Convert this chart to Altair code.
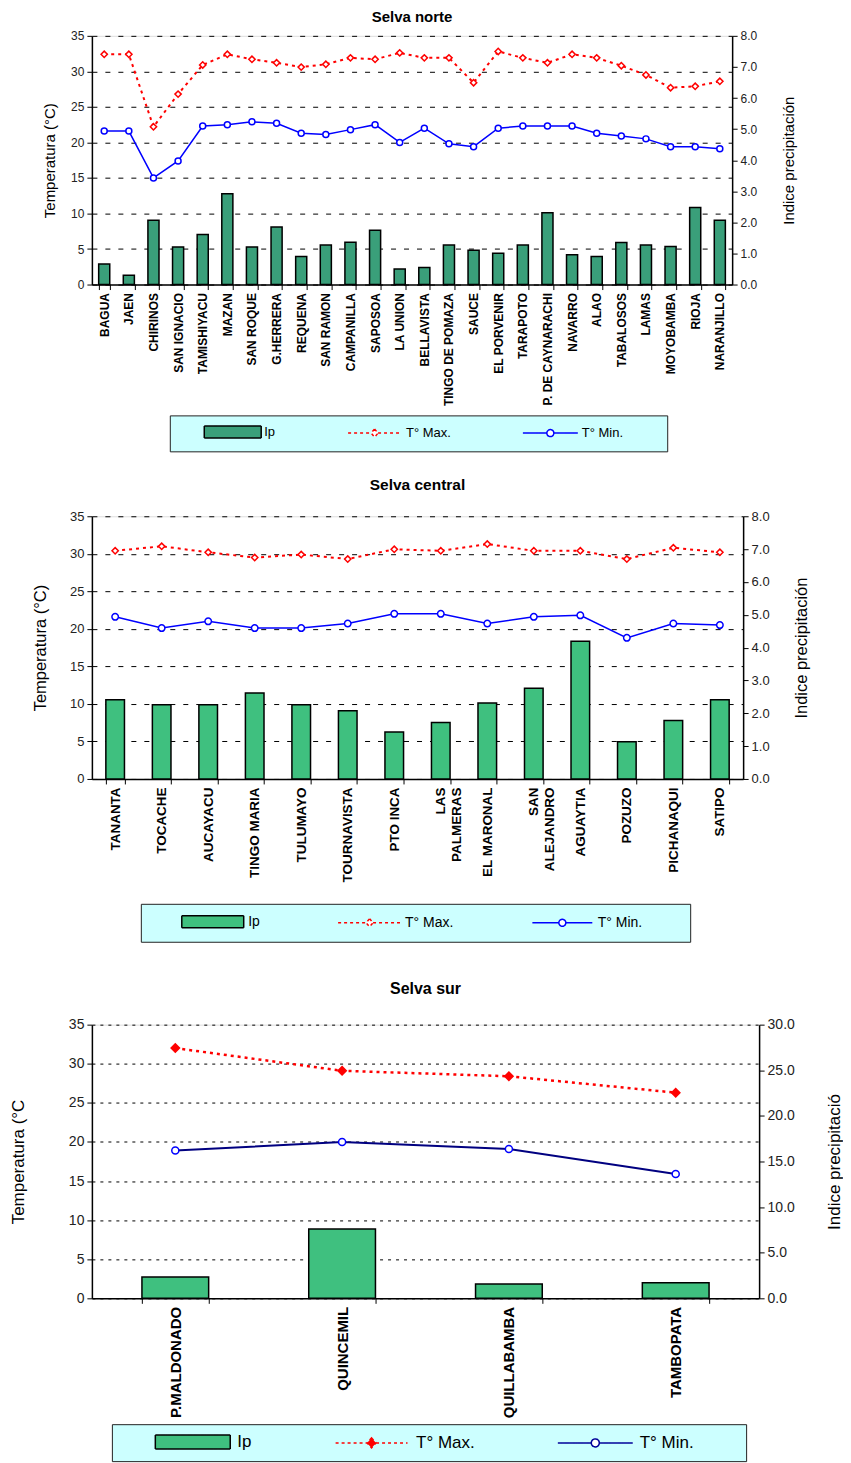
import altair as alt
import pandas as pd

FONT = "Liberation Sans, Arial, sans-serif"
SER = ["Ip", "T° Max.", "T° Min."]

# ---------------- Selva norte ----------------
norte_est = ["BAGUA", "JAEN", "CHIRINOS", "SAN IGNACIO", "TAMISHIYACU", "MAZAN",
             "SAN ROQUE", "G.HERRERA", "REQUENA", "SAN RAMON", "CAMPANILLA", "SAPOSOA",
             "LA UNION", "BELLAVISTA", "TINGO DE POMAZA", "SAUCE", "EL PORVENIR",
             "TARAPOTO", "P. DE CAYNARACHI", "NAVARRO", "ALAO", "TABALOSOS", "LAMAS",
             "MOYOBAMBA", "RIOJA", "NARANJILLO"]
norte_tmax = [32.4, 32.4, 22.2, 26.8, 30.9, 32.4, 31.7, 31.2, 30.6, 31.0, 31.9, 31.7, 32.6,
              31.9, 31.9, 28.4, 32.8, 31.9, 31.2, 32.4, 31.9, 30.8, 29.5, 27.7, 27.9, 28.6]
norte_tmin = [21.6, 21.6, 15.0, 17.4, 22.3, 22.5, 22.9, 22.7, 21.3, 21.1, 21.8, 22.5, 20.0,
              22.0, 19.8, 19.4, 22.0, 22.3, 22.3, 22.3, 21.3, 20.9, 20.5, 19.4, 19.4, 19.1]
norte_ip = [0.66, 0.30, 2.07, 1.21, 1.61, 2.92, 1.21, 1.85, 0.90, 1.27, 1.36, 1.75, 0.50,
            0.55, 1.27, 1.10, 1.01, 1.27, 2.31, 0.96, 0.90, 1.35, 1.27, 1.22, 2.48, 2.07]

# ---------------- Selva central ----------------
central_est = ["TANANTA", "TOCACHE", "AUCAYACU", "TINGO MARIA", "TULUMAYO", "TOURNAVISTA",
               "PTO INCA", "LAS PALMERAS", "EL MARONAL", "SAN ALEJANDRO", "AGUAYTIA",
               "POZUZO", "PICHANAQUI", "SATIPO"]
central_tmax = [30.4, 31.0, 30.2, 29.5, 29.9, 29.3, 30.6, 30.4, 31.3, 30.4, 30.4, 29.3, 30.8, 30.2]
central_tmin = [21.6, 20.1, 21.0, 20.1, 20.1, 20.7, 22.0, 22.0, 20.7, 21.6, 21.8, 18.8, 20.7, 20.5]
central_ip = [2.41, 2.26, 2.26, 2.62, 2.26, 2.08, 1.43, 1.72, 2.31, 2.76, 4.19, 1.13, 1.78, 2.41]

# ---------------- Selva sur ----------------
sur_est = ["P.MALDONADO", "QUINCEMIL", "QUILLABAMBA", "TAMBOPATA"]
sur_tmax = [32.0, 29.1, 28.4, 26.3]
sur_tmin = [18.9, 20.0, 19.1, 15.9]
sur_ip = [2.34, 7.6, 1.57, 1.72]


def panel(est, tmax, tmin, ip, o):
    df = pd.DataFrame({"est": est, "tmax": tmax, "tmin": tmin, "ip": ip})
    n = len(est)
    legdf = pd.DataFrame({"est": est + est,
                          "serie": [SER[1]] * n + [SER[2]] * n,
                          "temp": tmax + tmin})

    xaxis = alt.Axis(labelAngle=270, labelAlign="right", labelBaseline="middle",
                     labelFont=FONT, labelFontWeight="bold", labelFontSize=o["xfs"],
                     labelColor="#000", labelPadding=3, labelLimit=300,
                     labelLineHeight=o["xfs"] + 2,
                     labelExpr="(datum.label == 'LAS PALMERAS' || datum.label == 'SAN ALEJANDRO') ? split(datum.label, ' ') : datum.label",
                     tickBand="extent", tickSize=5, tickColor="#000", tickWidth=1,
                     domainColor="#000", domainWidth=1.5, grid=False, title=None)
    xenc = alt.X("est:N", sort=est, title=None,
                 scale=alt.Scale(paddingInner=o["pi"], paddingOuter=o["pi"] / 2),
                 axis=xaxis)

    taxis = alt.Axis(orient="left", values=list(range(0, 36, 5)), grid=True,
                     gridDash=o["gd"], gridColor="#000", gridWidth=1,
                     title=o["ylt"], titleFont=FONT, titleFontSize=o["ytfs"],
                     titleFontWeight="normal", titleColor="#000", titlePadding=o["ytp"],
                     titleAngle=270, titleBaseline="bottom",
                     labelFont=FONT, labelFontSize=o["yfs"], labelColor="#222",
                     labelPadding=3, tickSize=5, tickColor="#000", domainColor="#000",
                     domainWidth=1.5)
    tscale = alt.Scale(domain=[0, 35], nice=False, zero=True)

    raxis = alt.Axis(orient="right", values=o["rvals"], format=".1f", grid=False,
                     title=o["yrt"], titleFont=FONT, titleFontSize=o["ytfs"],
                     titleFontWeight="normal", titleColor="#000", titlePadding=o["rtp"],
                     titleAngle=270, titleBaseline="top",
                     labelFont=FONT, labelFontSize=o["yfs"], labelColor="#222",
                     labelPadding=3, tickSize=5, tickColor="#000", domainColor="#000",
                     domainWidth=1.5)

    base = alt.Chart(df)
    bars = base.mark_bar(fill=o["bar"], stroke="#000", strokeWidth=1.5).encode(
        x=xenc,
        y=alt.Y("ip:Q", scale=alt.Scale(domain=[0, o["rmax"]], nice=False), axis=raxis))

    lmax = base.mark_line(color="#ff0000", strokeWidth=o["lwmax"], strokeDash=[3, 4]).encode(
        x=xenc, y=alt.Y("tmax:Q", scale=tscale, axis=taxis))
    pmax = base.mark_point(shape="diamond", filled=True, fill=o["dfill"], stroke="#ff0000",
                           strokeWidth=1.5, size=o["dsize"], opacity=1).encode(
        x=xenc, y=alt.Y("tmax:Q", scale=tscale, axis=taxis))
    lmin = base.mark_line(color=o["mincol"], strokeWidth=o["lwmin"]).encode(
        x=xenc, y=alt.Y("tmin:Q", scale=tscale, axis=taxis))
    pmin = base.mark_point(shape="circle", filled=True, fill="#ffffff", stroke="#0000ff",
                           strokeWidth=1.5, size=o["csize"], opacity=1).encode(
        x=xenc, y=alt.Y("tmin:Q", scale=tscale, axis=taxis))

    leg = alt.Legend(title=None, orient="none", legendX=o["lx"], legendY=o["ly"],
                     direction="horizontal", columns=3, columnPadding=o["lcp"],
                     symbolSize=100, symbolStrokeWidth=1.5, symbolOpacity=1,
                     symbolOffset=o["so"],
                     labelFont=FONT, labelFontSize=o["lfs"], labelColor="#000",
                     labelOffset=o["lo"], labelLimit=300, padding=o["lpad"],
                     fillColor="#ccffff", strokeColor="#222")
    legl = alt.Chart(legdf).mark_point(opacity=0).encode(
        x=xenc,
        y=alt.Y("temp:Q", scale=tscale, axis=taxis),
        fill=alt.Fill("serie:N", scale=alt.Scale(domain=SER, range=o["lfill"]), legend=leg),
        stroke=alt.Stroke("serie:N", scale=alt.Scale(domain=SER, range=o["lstroke"]), legend=leg),
        shape=alt.Shape("serie:N", scale=alt.Scale(domain=SER, range=o["lshape"]), legend=leg),
        strokeDash=alt.StrokeDash("serie:N", scale=alt.Scale(domain=SER, range=[[1, 0], [3, 3], [1, 0]]), legend=leg),
    )

    temps = alt.layer(lmax, pmax, lmin, pmin, legl)
    ch = alt.layer(bars, temps).resolve_scale(y="independent").properties(
        width=o["w"], height=o["h"],
        title=alt.TitleParams(o["title"], font=FONT, fontSize=o["tfs"], fontWeight="bold",
                              color="#000", anchor="middle", offset=o["toff"],
                              lineHeight=o.get("tlh", 16)))
    return ch


c1 = panel(norte_est, norte_tmax, norte_tmin, norte_ip, dict(
    pi=0.55, xfs=12, gd=[5, 8], ylt="Temperatura (°C)", yrt="Indice precipitación",
    ytfs=15, ytp=13, rtp=25, yfs=12, rvals=[0, 1, 2, 3, 4, 5, 6, 7, 8], rmax=8,
    bar="#3a9f7a", lwmax=2, dfill="#ffffff", dsize=40, mincol="#0000ff", lwmin=1.5, csize=36,
    lx=78, ly=380, lcp=46, lfs=13, so=46.5, lo=25, lpad=10,
    lfill=["#3a9f7a", "#ffffff", "#ffffff"], lstroke=["#000000", "#ff0000", "#0000ff"],
    lshape=["M-5.7,-1.2H5.7V1.2H-5.7Z",
            "M-5.3,0H-0.7M0.7,0H5.3M0,-0.8L0.7,0L0,0.8L-0.7,0Z",
            "M-5.5,0H-0.7M0.7,0H5.5M0.7,0A0.7,0.7,0,1,1,-0.7,0A0.7,0.7,0,1,1,0.7,0ZM20.7,0"],
    w=641, h=249, title="Selva norte", tfs=15, toff=5))

c2 = panel(central_est, central_tmax, central_tmin, central_ip, dict(
    pi=0.6, xfs=13.5, gd=[5, 8], ylt="Temperatura (°C)", yrt="Indice precipitación",
    ytfs=16.5, ytp=21, rtp=24, yfs=13, rvals=[0, 1, 2, 3, 4, 5, 6, 7, 8], rmax=8,
    bar="#3fc07f", lwmax=2, dfill="#ffffff", dsize=40, mincol="#0000ff", lwmin=1.5, csize=42,
    lx=49, ly=388, lcp=48, lfs=14, so=54, lo=28.5, lpad=11,
    lfill=["#3fc07f", "#ffffff", "#ffffff"], lstroke=["#000000", "#ff0000", "#0000ff"],
    lshape=["M-6.2,-1.2H6.2V1.2H-6.2Z",
            "M-6.3,0H-0.7M0.7,0H6.3M0,-0.8L0.7,0L0,0.8L-0.7,0Z",
            "M-6,0H-0.7M0.7,0H6M0.7,0A0.7,0.7,0,1,1,-0.7,0A0.7,0.7,0,1,1,0.7,0ZM22.8,0"],
    w=652, h=263, title="Selva central", tfs=15.5, toff=17))

c3 = panel(sur_est, sur_tmax, sur_tmin, sur_ip, dict(
    pi=0.6, xfs=15, gd=[3, 5], ylt="Temperatura (°C", yrt="Indice precipitació",
    ytfs=17, ytp=41, rtp=32, yfs=14, rvals=[0, 5, 10, 15, 20, 25, 30], rmax=30,
    bar="#3fc07f", lwmax=2.5, dfill="#ff0000", dsize=70, mincol="#000080", lwmin=2, csize=50,
    lx=20, ly=400, lcp=48, lfs=17, so=63.5, lo=36, lpad=9,
    lfill=["#3fc07f", "#ff0000", "#ffffff"], lstroke=["#000000", "#ff0000", "#000099"],
    lshape=["M-7.5,-1.4H7.5V1.4H-7.5Z",
            "M-7.2,0H-0.9M0.9,0H7.2M0,-1L0.9,0L0,1L-0.9,0Z",
            "M-7.5,0H-0.8M0.8,0H7.5M0.8,0A0.8,0.8,0,1,1,-0.8,0A0.8,0.8,0,1,1,0.8,0ZM27.7,0"],
    w=668, h=274, title=["", "Selva sur"], tfs=16, toff=21, tlh=12))

chart = alt.vconcat(c1, c2, c3, spacing=25).resolve_scale(
    fill="independent", stroke="independent", shape="independent",
    strokeDash="independent", x="independent", y="independent"
).resolve_legend(
    fill="independent", stroke="independent", shape="independent",
    strokeDash="independent"
).properties(
    padding={"left": 0, "top": 0, "right": 0, "bottom": 0}
).configure_view(fill="#ffffcc", stroke="#808080", strokeWidth=1.5).configure(font=FONT)

chart.save("out.html", embed_options={"renderer": "svg", "actions": False})
